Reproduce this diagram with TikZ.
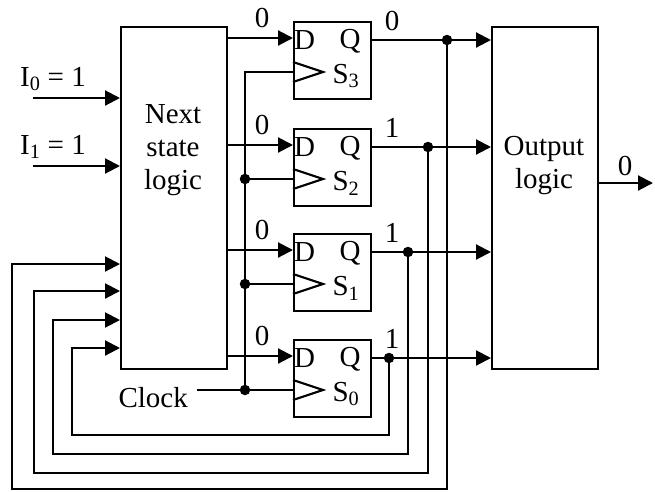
\documentclass[tikz,border=0pt]{standalone}
\usepackage{fontspec}
\setmainfont{Liberation Serif}
\usetikzlibrary{arrows.meta}
\tikzset{
  wire/.style={line width=2.1pt},
  arr/.style={wire,-{Triangle[length=15pt,width=15pt]}},
  box/.style={draw, line width=2.1pt, inner sep=0pt},
  lbl/.style={font=\fontsize{29}{33}\selectfont, inner sep=0pt},
  jdot/.style={circle, fill, inner sep=0pt, minimum size=10.5pt},
}
\begin{document}
\begin{tikzpicture}[x=1pt,y=-1pt]
\useasboundingbox (0,0) rectangle (655,491);
% main boxes
\node[box, minimum width=106pt, minimum height=342pt, anchor=north west] (nsl) at (120,26) {};
\node[lbl, align=center] (nsltxt) at (173,150) {Next\\state\\logic};
\node[box, minimum width=106pt, minimum height=342pt, anchor=north west] (ol) at (491,26) {};
\node[lbl, align=center] (oltxt) at (544,166) {Output\\logic};
% inputs
\coordinate (i0s) at (33,98);  \coordinate (i0e) at (120,98);
\coordinate (i1s) at (33,166); \coordinate (i1e) at (120,166);
\draw[arr] (i0s) -- (i0e);
\draw[arr] (i1s) -- (i1e);
\node[lbl] (i0lbl) at (53,79) {I\textsubscript{0} = 1};
\node[lbl] (i1lbl) at (53,147) {I\textsubscript{1} = 1};
% output
\coordinate (os) at (597,183); \coordinate (oe) at (653,183);
\draw[arr] (os) -- (oe);
\node[lbl] (olbl) at (625,166) {0};
% flip-flops
\foreach \i/\t/\dx/\yb/\xl/\yi/\qv in {3/21/447/489/12/264/0, 2/128/428/473/34/291/1, 1/233/408/454/53/320/1, 0/339/389/435/72/348/1} {
  \node[box, minimum width=77pt, minimum height=77pt, anchor=north west] (ff\i) at (293,\t) {};
  \coordinate (ds\i) at (226,\t+17);
  \coordinate (de\i) at (293,\t+17);
  \draw[arr] (ds\i) -- (de\i);
  \node[lbl] (dl\i) at (262,\t-3) {0};
  \node[lbl, anchor=west] (dd\i) at (294,\t+19) {D};
  \node[lbl] (qq\i) at (350,\t+20) {Q};
  \node[lbl] (ss\i) at (346,\t+55) {S\textsubscript{\i}};
  \coordinate (ta\i) at (293,\t+41);
  \coordinate (tb\i) at (323,\t+51);
  \coordinate (tc\i) at (293,\t+61);
  \draw[wire] (ta\i) -- (tb\i) -- (tc\i);
  \coordinate (qs\i) at (370,\t+19);
  \coordinate (qe\i) at (491,\t+19);
  \draw[arr] (qs\i) -- (qe\i);
  \node[lbl] (ql\i) at (392,\t) {\qv};
  \node[jdot] (dot\i) at (\dx,\t+19) {};
  \coordinate (c\i) at (\dx,\yb);
  \coordinate (e\i) at (\xl,\yi);
  \coordinate (in\i) at (120,\yi);
  \draw[arr] (dot\i.center) -- (c\i) -| (e\i) -- (in\i);
  \coordinate (ck\i) at (293,\t+51);
}
% clock
\node[lbl, anchor=east] (clk) at (188,398) {Clock};
\coordinate (clks) at (197,390);
\coordinate (ctop) at (245,72);
\node[jdot] (cd2) at (245,179) {};
\node[jdot] (cd1) at (245,284) {};
\node[jdot] (cd0) at (245,390) {};
\draw[wire] (clks) -- (ck0);
\draw[wire] (cd0.center) -- (ctop) -- (ck3);
\draw[wire] (cd2.center) -- (ck2);
\draw[wire] (cd1.center) -- (ck1);
\end{tikzpicture}
\end{document}
